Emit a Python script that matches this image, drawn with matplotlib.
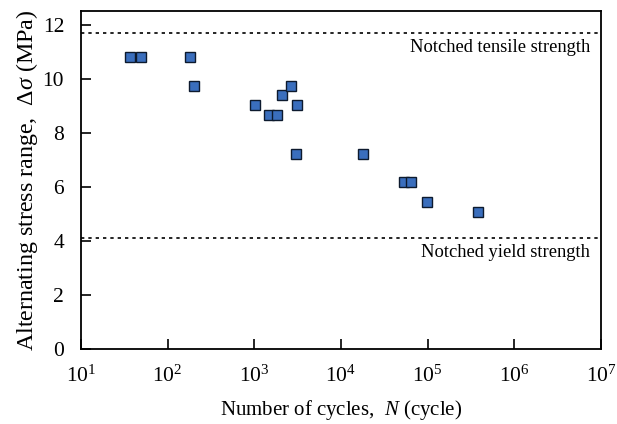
import numpy as np
import matplotlib
matplotlib.use("Agg")
import matplotlib.pyplot as plt
from matplotlib.ticker import LogLocator, NullLocator

plt.rcParams['font.family'] = ['Liberation Serif', 'DejaVu Serif']
plt.rcParams['mathtext.fontset'] = 'custom'
plt.rcParams['mathtext.rm'] = 'Liberation Serif'
plt.rcParams['mathtext.it'] = 'Liberation Serif:italic'

# fatigue test results
cycles = [37, 50, 184, 203, 1035, 1490, 1810, 2100, 2670, 3080, 3020, 18200,
          53600, 65100, 97900, 383000]
stress = [10.8, 10.8, 10.8, 9.74, 9.02, 8.67, 8.67, 9.38, 9.74, 9.02, 7.22, 7.22,
          6.16, 6.16, 5.43, 5.06]

tensile_strength = 11.68
yield_strength = 4.12

fig = plt.figure(figsize=(6.17, 4.24), dpi=100)
ax = fig.add_axes([0.131, 0.177, 0.843, 0.797])

ax.plot(cycles, stress, linestyle="none", marker="s", markersize=7.8,
        markerfacecolor="#3a6ebd", markeredgecolor="#0d1a2e", markeredgewidth=1.0)

ax.axhline(tensile_strength, color="black", linestyle=(0, (2, 2.4)), linewidth=1.2)
ax.axhline(yield_strength, color="black", linestyle=(0, (2, 2.4)), linewidth=1.2)
ax.text(7.5e6, tensile_strength - 0.22, "Notched tensile strength", ha="right", va="top", fontsize=13.3)
ax.text(7.5e6, yield_strength - 0.22, "Notched yield strength", ha="right", va="top", fontsize=13.3)

ax.set_xscale("log")
ax.set_xlim(10, 1e7)
ax.set_ylim(0, 12.5)
ax.xaxis.set_major_locator(LogLocator(base=10, numticks=10))
ax.xaxis.set_minor_locator(NullLocator())
ax.set_yticks([0, 2, 4, 6, 8, 10, 12])

ax.tick_params(direction="in", length=7, width=1.2, labelsize=15.5, top=False, right=False)
ax.tick_params(axis="x", pad=12)
ax.tick_params(axis="y", pad=12)
for s in ax.spines.values():
    s.set_linewidth(1.3)

ax.set_xlabel("Number of cycles,  $\\mathit{N}$ (cycle)", fontsize=15, labelpad=8)
ax.set_ylabel("Alternating stress range,  $\\mathit{\\Delta\\sigma}$ (MPa)", fontsize=17.3, labelpad=2)

fig.savefig("out.png", dpi=100)
